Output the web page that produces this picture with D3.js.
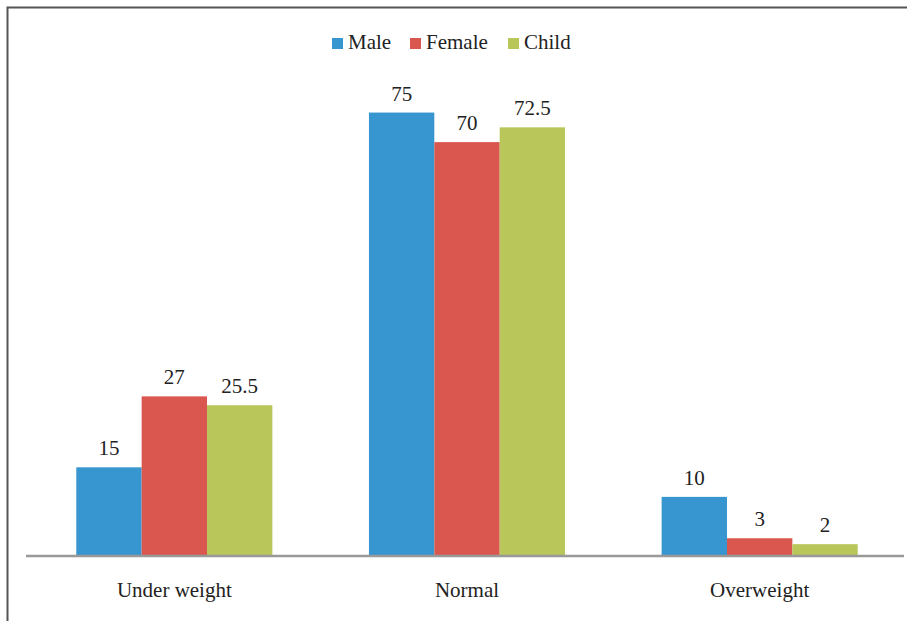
<!DOCTYPE html>
<html><head><meta charset="utf-8">
<script src="https://cdn.jsdelivr.net/npm/d3@7"></script>
<style>
@font-face { font-family: "SerifLocal"; src: local("Liberation Serif"), local("LiberationSerif"), local("Liberation Serif Regular"), local("LiberationSerif-Regular"); }
body{margin:0;background:#fff}svg{display:block}
svg text{font-family:"Liberation Serif", SerifLocal, serif !important;}
</style>
</head><body>
<script>
const categories = ["Under weight", "Normal", "Overweight"];
const seriesNames = ["Male", "Female", "Child"];
const male = [15, 75, 10];
const female = [27, 70, 3];
const child = [25.5, 72.5, 2];
const colors = ["#3795CF", "#D9574F", "#B8C65A"];

const W = 907, H = 621;
const font = "Liberation Serif";
const svg = d3.select("body").append("svg").attr("width", W).attr("height", H)
  .attr("font-family", font);

// outer border
svg.append("rect").attr("x", 7.5).attr("y", 7.5).attr("width", W + 10).attr("height", H + 10)
  .attr("fill", "none").attr("stroke", "#555").attr("stroke-width", 2);

const left = 28, right = 906, baseY = 556, topY = 83;
const x0 = d3.scaleBand().domain(categories).range([left, right]).paddingInner(0.33).paddingOuter(0.165);
const x1 = d3.scaleBand().domain(seriesNames).range([0, x0.bandwidth()]);
const y = d3.scaleLinear().domain([0, 80]).range([baseY, topY]);

const data = [male, female, child];
const g = svg.append("g");
categories.forEach((c, i) => {
  seriesNames.forEach((s, j) => {
    const v = data[j][i];
    g.append("rect")
      .attr("x", x0(c) + x1(s))
      .attr("y", y(v))
      .attr("width", x1.bandwidth())
      .attr("height", y(0) - y(v))
      .attr("fill", colors[j]);
    g.append("text")
      .attr("x", x0(c) + x1(s) + x1.bandwidth() / 2)
      .attr("y", y(v) - 12)
      .attr("text-anchor", "middle")
      .attr("font-family", font).attr("font-size", 21).attr("fill", "#222")
      .text(v);
  });
});

// baseline axis
const xAxis = d3.axisBottom(x0).tickSize(0).tickPadding(26);
const ax = svg.append("g").attr("transform", `translate(0,${baseY})`).call(xAxis)
  .attr("font-family", font);
ax.select(".domain").attr("stroke", "#999").attr("stroke-width", 2.5)
  .attr("d", "M26,0H904");
ax.selectAll("text").attr("font-family", font).attr("font-size", 21).attr("fill", "#222");

// legend
const legendX = [332, 410, 508];
seriesNames.forEach((s, j) => {
  svg.append("rect").attr("x", legendX[j]).attr("y", 38).attr("width", 11).attr("height", 11).attr("fill", colors[j]);
  svg.append("text").attr("x", legendX[j] + 16).attr("y", 49)
    .attr("font-family", font).attr("font-size", 21).attr("fill", "#222").text(s);
});
</script>
</body></html>
